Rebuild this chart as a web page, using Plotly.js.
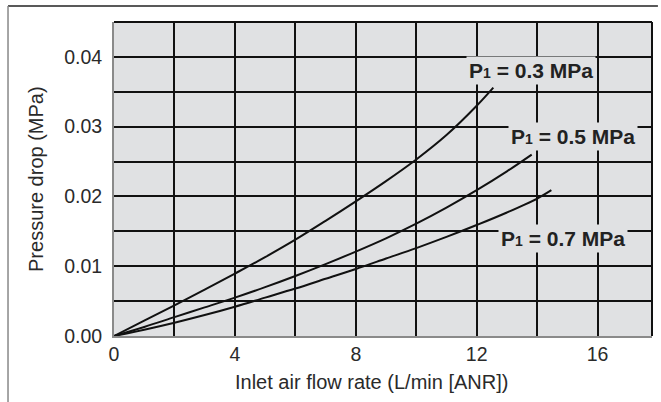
<!DOCTYPE html>
<html>
<head>
<meta charset="utf-8">
<script src="https://cdn.plot.ly/plotly-3.0.1.min.js"></script>
<style>html,body{margin:0;padding:0;background:#fff;}#chart{width:661px;height:402px;}</style>
</head>
<body>
<div id="chart"></div>
<script>
// Series data
const x03 = [0, 1, 2, 3, 4, 5, 6, 7, 8, 9, 10, 11, 12, 12.55];
const y03 = [0, 0.0022, 0.0044, 0.00665, 0.00895, 0.0113, 0.0138, 0.0165, 0.0193, 0.0222, 0.0253, 0.0288, 0.033, 0.0356];

const x05 = [0, 1, 2, 3, 4, 5, 6, 7, 8, 9, 10, 11, 12, 13, 13.82];
const y05 = [0, 0.0013, 0.0027, 0.0041, 0.0055, 0.0070, 0.0086, 0.0103, 0.0121, 0.0140, 0.0161, 0.0184, 0.0209, 0.0236, 0.026];

const x07 = [0, 1, 2, 3, 4, 5, 6, 7, 8, 9, 10, 11, 12, 13, 14, 14.47];
const y07 = [0, 0.0009, 0.0019, 0.003, 0.0042, 0.0055, 0.0068, 0.0082, 0.0096, 0.0111, 0.0126, 0.0142, 0.0159, 0.0177, 0.0197, 0.0209];

const seriesLabels = ['P<span style="font-size:14px">1</span> = 0.3 MPa',
                      'P<span style="font-size:14px">1</span> = 0.5 MPa',
                      'P<span style="font-size:14px">1</span> = 0.7 MPa'];
const labelX = [13.8, 15.2, 14.87];
const labelY = [0.038, 0.0286, 0.014];

const xTickVals = [0, 4, 8, 12, 16];
const yTickVals = [0, 0.01, 0.02, 0.03, 0.04];

const xTitle = 'Inlet air flow rate (L/min [ANR])';
const yTitle = 'Pressure drop (MPa)';

const FONT = 'Liberation Sans, Arial, Helvetica, sans-serif';
const BG = '#e0e1e3';

const lineStyle = {color: '#111', width: 2, shape: 'spline', smoothing: 1};
const traces = [
  {x: x03, y: y03, mode: 'lines', line: lineStyle, hoverinfo: 'skip'},
  {x: x05, y: y05, mode: 'lines', line: lineStyle, hoverinfo: 'skip'},
  {x: x07, y: y07, mode: 'lines', line: lineStyle, hoverinfo: 'skip'}
];

const annotations = seriesLabels.map((t, i) => ({
  x: labelX[i], y: labelY[i], xref: 'x', yref: 'y', text: t, showarrow: false,
  font: {family: FONT, size: 21, color: '#222', weight: 'bold'},
  bgcolor: BG, borderpad: 2, xanchor: 'center', yanchor: 'middle'
}));
annotations.push({
  x: 0.478, y: -0.146, xref: 'paper', yref: 'paper', text: xTitle, showarrow: false,
  font: {family: FONT, size: 20, color: '#2a2a2a'}, xanchor: 'center', yanchor: 'middle'
});
annotations.push({
  x: -0.145, y: 0.5, xref: 'paper', yref: 'paper', text: yTitle, showarrow: false, textangle: -90,
  font: {family: FONT, size: 20, color: '#2a2a2a'}, xanchor: 'center', yanchor: 'middle'
});

const layout = {
  width: 661, height: 402,
  margin: {l: 114, r: 9, t: 22, b: 66, pad: 0},
  paper_bgcolor: '#ffffff',
  plot_bgcolor: BG,
  showlegend: false,
  font: {family: FONT, color: '#2a2a2a'},
  xaxis: {
    range: [0, 17.8], tickvals: xTickVals, ticktext: xTickVals.map(String),
    showgrid: true, gridcolor: '#111', gridwidth: 2,
    minor: {dtick: 2, tick0: 0, showgrid: true, gridcolor: '#111', gridwidth: 2},
    zeroline: false, showline: true, linecolor: '#8a8a8a', linewidth: 2,
    ticks: '', ticklabelstandoff: 0,
    tickfont: {family: FONT, size: 19.5, color: '#2a2a2a'}, fixedrange: true
  },
  yaxis: {
    range: [0, 0.045], tickvals: yTickVals, ticktext: yTickVals.map(v => v.toFixed(2)),
    showgrid: true, gridcolor: '#111', gridwidth: 2,
    minor: {dtick: 0.005, tick0: 0, showgrid: true, gridcolor: '#111', gridwidth: 2},
    zeroline: false, showline: true, linecolor: '#8a8a8a', linewidth: 2,
    ticks: '', ticklabelstandoff: 6,
    tickfont: {family: FONT, size: 19.5, color: '#2a2a2a'}, fixedrange: true
  },
  shapes: [
    {type: 'line', xref: 'paper', yref: 'paper', x0: 0, x1: 1, y0: 1, y1: 1, line: {color: '#111', width: 2}},
    {type: 'line', xref: 'paper', yref: 'paper', x0: 1, x1: 1, y0: 0, y1: 1, line: {color: '#111', width: 2}},
    {type: 'line', xref: 'paper', yref: 'paper', x0: -0.197, x1: 1.011, y0: 1.051, y1: 1.051, line: {color: '#222', width: 1.5}},
    {type: 'line', xref: 'paper', yref: 'paper', x0: -0.197, x1: -0.197, y0: 1.051, y1: -0.22, line: {color: '#888', width: 1.5}}
  ],
  annotations: annotations
};

Plotly.newPlot('chart', traces, layout, {displayModeBar: false, staticPlot: true});
</script>
</body>
</html>
